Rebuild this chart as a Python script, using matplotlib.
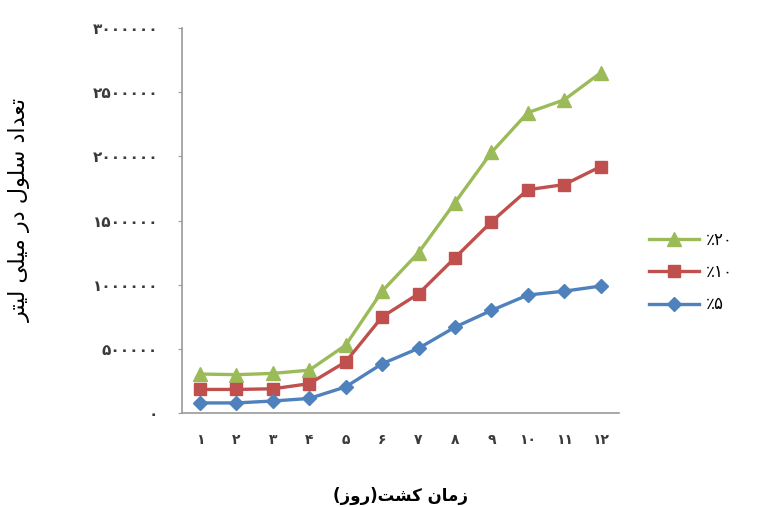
import matplotlib
matplotlib.use('Agg')
from matplotlib import pyplot as plt

# cell counts per ml for each concentration, days 1..12
days = list(range(1, 13))
conc_20 = [305000, 300000, 310000, 335000, 530000, 950000, 1250000, 1640000, 2030000, 2340000, 2440000, 2650000]
conc_10 = [185000, 185000, 190000, 230000, 400000, 750000, 930000, 1210000, 1490000, 1740000, 1780000, 1920000]
conc_5 = [80000, 80000, 95000, 115000, 205000, 385000, 505000, 670000, 800000, 920000, 950000, 990000]

series_labels = ['٪۲۰', '٪۱۰', '٪۵']
y_ticks = [0, 500000, 1000000, 1500000, 2000000, 2500000, 3000000]
y_title = 'تعداد سلول در میلی لیتر'
x_title = 'زمان کشت(روز)'

FA_DIGITS = '۰۱۲۳۴۵۶۷۸۹'

# presentation forms: isolated, final, initial, medial
FORMS = {
    'ا': ('\uFE8D', '\uFE8E', None, None),
    'د': ('\uFEA9', '\uFEAA', None, None),
    'ر': ('\uFEAD', '\uFEAE', None, None),
    'ز': ('\uFEAF', '\uFEB0', None, None),
    'و': ('\uFEED', '\uFEEE', None, None),
    'ت': ('\uFE95', '\uFE96', '\uFE97', '\uFE98'),
    'ع': ('\uFEC9', '\uFECA', '\uFECB', '\uFECC'),
    'س': ('\uFEB1', '\uFEB2', '\uFEB3', '\uFEB4'),
    'ش': ('\uFEB5', '\uFEB6', '\uFEB7', '\uFEB8'),
    'ل': ('\uFEDD', '\uFEDE', '\uFEDF', '\uFEE0'),
    'م': ('\uFEE1', '\uFEE2', '\uFEE3', '\uFEE4'),
    'ن': ('\uFEE5', '\uFEE6', '\uFEE7', '\uFEE8'),
    'ی': ('\uFBFC', '\uFBFD', '\uFBFE', '\uFBFF'),
    'ک': ('\uFB8E', '\uFB8F', '\uFB90', '\uFB91'),
}
MIRROR = {'(': ')', ')': '('}


def joins_next(ch):
    return ch in FORMS and FORMS[ch][2] is not None


def shape(text):
    out = []
    for i, ch in enumerate(text):
        if ch not in FORMS:
            out.append(MIRROR.get(ch, ch))
            continue
        prev_joins = i > 0 and joins_next(text[i - 1])
        next_joins = joins_next(ch) and i + 1 < len(text) and text[i + 1] in FORMS
        iso, fin, ini, med = FORMS[ch]
        if prev_joins and next_joins:
            out.append(med)
        elif prev_joins:
            out.append(fin)
        elif next_joins:
            out.append(ini)
        else:
            out.append(iso)
    return ''.join(reversed(out))


def fa_num(n):
    return str(n).translate(str.maketrans('0123456789', FA_DIGITS))


plt.rcParams['font.family'] = ['DejaVu Sans']

fig = plt.figure(figsize=(7.64, 5.07), dpi=100)
ax = fig.add_axes([0.238, 0.185, 0.572, 0.76])

ax.plot(days, conc_20, color='#9BBB59', marker='^', markersize=10, linewidth=2.4, label=series_labels[0])
ax.plot(days, conc_10, color='#C0504D', marker='s', markersize=8.5, linewidth=2.4, label=series_labels[1])
ax.plot(days, conc_5, color='#4F81BD', marker='D', markersize=7, linewidth=2.4, label=series_labels[2])

ax.set_xlim(0.5, 12.5)
ax.set_ylim(0, 3000000)
ax.set_yticks(y_ticks)
ax.set_yticklabels([fa_num(v) for v in y_ticks], fontsize=11, fontweight='bold', color='#3a3a3a')
ax.set_xticks(days)
ax.set_xticklabels([fa_num(d) for d in days], fontsize=10, fontweight='bold', color='#3a3a3a')
ax.tick_params(axis='y', length=3, color='#9a9a9a', pad=14)
ax.tick_params(axis='x', length=0, pad=14)

for side in ['top', 'right']:
    ax.spines[side].set_visible(False)
for side in ['left', 'bottom']:
    ax.spines[side].set_color('#9a9a9a')
    ax.spines[side].set_linewidth(1.2)

ax.set_xlabel(shape(x_title), fontsize=12, fontweight='bold', labelpad=29)
ax.set_ylabel(shape(y_title), fontsize=16)
ax.yaxis.set_label_coords(-0.345, 0.527)

ax.legend(loc='center left', bbox_to_anchor=(1.035, 0.366), frameon=False,
          fontsize=12, handlelength=3.0, labelspacing=0.85, handletextpad=0.4)

plt.savefig('out.png', dpi=100)
plt.close()
